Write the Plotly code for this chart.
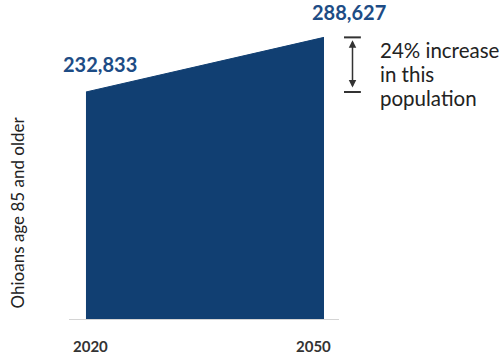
import plotly.graph_objects as go

years = [2020, 2050]
population = [232833, 288627]
value_labels = ["232,833", "288,627"]
tick_labels = ["2020", "2050"]
note_lines = ["24% increase", "in this", "population"]
y_title = "Ohioans age 85 and older"

fill_color = "#113f72"
label_color = "#1d4c85"

fig = go.Figure()
fig.add_trace(go.Scatter(
    x=years, y=population, mode="lines", fill="tozeroy",
    line=dict(color=fill_color, width=1), fillcolor=fill_color,
    hoverinfo="skip", showlegend=False))

# value labels
shifts = [(14, 14), (25, 11)]
for x, y, t, (dx, dy) in zip(years, population, value_labels, shifts):
    fig.add_annotation(x=x, y=y, text=t, showarrow=False, xanchor="center",
                       yanchor="bottom", xshift=dx, yshift=dy,
                       font=dict(family="Lato", size=20, color=label_color, weight="bold"))

# tick labels
for x, t, dx in zip(years, tick_labels, [5, -11]):
    fig.add_annotation(x=x, y=0, text=t, showarrow=False, xanchor="center",
                       yanchor="top", xshift=dx, yshift=-15,
                       font=dict(family="Lato", size=15, color="#333333", weight="bold"))

# bracket with double arrow
for v in population:
    fig.add_shape(type="line", xref="x domain", yref="y", x0=1.0185, x1=1.081, y0=v, y1=v,
                  line=dict(color="#333333", width=2))
fig.add_annotation(xref="x domain", yref="y", x=1.05, y=population[1],
                   axref="x domain", ayref="y", ax=1.05, ay=population[0],
                   text="", showarrow=True, arrowhead=2, arrowside="end+start",
                   arrowsize=1, arrowwidth=1.5, arrowcolor="#333333",
                   standoff=3, startstandoff=3)
mid = (population[0] + population[1]) / 2
for line, dy in zip(note_lines, [15, -9, -33]):
    fig.add_annotation(xref="x domain", yref="y", x=1.148, y=mid,
                       text=line, showarrow=False, xanchor="left", yanchor="middle",
                       align="left", yshift=dy, borderpad=0,
                       font=dict(family="Lato", size=20.5, color="#222222"))

fig.update_xaxes(range=[2017.86, 2051.89], showgrid=False, zeroline=False,
                 showticklabels=False, showline=False)
fig.update_yaxes(range=[0, 296150], showgrid=False, zeroline=False,
                 showticklabels=False, showline=False, automargin=False)
fig.add_annotation(xref="paper", yref="paper", x=-0.19, y=0.37, text=y_title,
                   showarrow=False, textangle=-90, xanchor="center", yanchor="middle",
                   font=dict(family="Lato", size=17, color="#222222"))
fig.add_shape(type="line", xref="paper", yref="y", x0=0, x1=1, y0=0, y1=0,
              line=dict(color="#d4d4d4", width=2))

fig.update_layout(width=504, height=354, margin=dict(l=69, r=165, t=30, b=34),
                  plot_bgcolor="white", paper_bgcolor="white")
fig.write_html("out.html", config={"displayModeBar": False},
               post_script="document.body.style.margin='0';")
